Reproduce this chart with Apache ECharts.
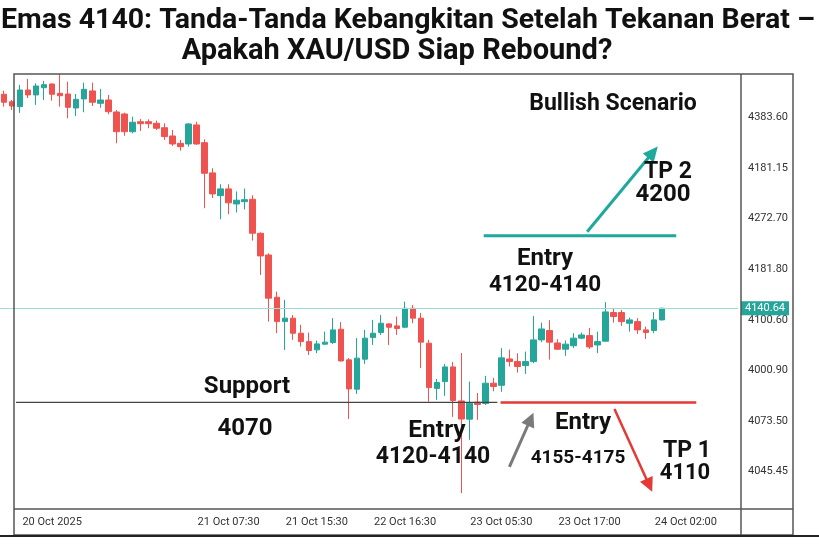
<!DOCTYPE html>
<html><head><meta charset="utf-8">
<script src="https://cdn.jsdelivr.net/npm/echarts@6/dist/echarts.min.js"></script>
<style>html,body{margin:0;padding:0;background:#fff}#c{width:819px;height:547px}</style>
</head><body><div id="c"></div>
<script>
// ---- data: [open, close, low, high] ----
const candles = [
[4301.2,4295.2,4291.9,4303.9],[4295.6,4292.4,4289.4,4296.9],[4291.9,4304.4,4287.2,4308.2],[4304.4,4300.7,4298.4,4312.7],
[4300.7,4307.4,4293.2,4309.4],[4306.1,4308.4,4296.9,4311.2],[4308.9,4301.2,4296.4,4309.4],[4301.9,4300.1,4291.9,4316.4],
[4301.4,4291.4,4283.2,4310.6],[4290.9,4297.4,4284.9,4301.4],[4297.7,4304.9,4287.7,4309.9],[4303.7,4295.2,4292.4,4309.9],
[4294.4,4296.9,4291.1,4305.2],[4296.9,4288.1,4286.2,4300.7],[4287.9,4273.1,4264.4,4289.4],[4286.4,4273.1,4270.1,4287.4],
[4273.1,4280.2,4271.9,4284.4],[4280.6,4279.1,4273.7,4282.7],[4280.6,4279.1,4275.7,4282.4],[4279.4,4275.7,4274.4,4281.4],
[4276.1,4269.4,4266.9,4279.4],[4269.9,4263.9,4262.4,4274.4],[4264.4,4261.9,4258.9,4266.9],[4263.9,4278.9,4261.9,4279.5],
[4278.2,4263.9,4263.2,4280.6],[4264.9,4241.9,4215.7,4267.4],[4242.2,4226.4,4223.4,4245.7],[4225.1,4230.2,4207.4,4233.7],
[4230.2,4219.7,4211.2,4233.7],[4218.9,4221.7,4212.5,4228.3],[4220.6,4222.1,4214.8,4230.5],[4222.4,4196.9,4191.4,4225.4],
[4196.9,4179.9,4165.6,4197.5],[4180.6,4148.2,4130.6,4181.9],[4148.9,4130.6,4121.9,4153.1],[4130.6,4133.2,4109.4,4146.9],
[4133.2,4121.9,4116.9,4135.6],[4121.9,4115.6,4111.9,4128.2],[4115.6,4108.9,4105.6,4122.4],[4109.4,4113.9,4106.9,4116.4],
[4113.7,4115.2,4113.1,4123.1],[4114.9,4124.4,4113.7,4133.2],[4124.9,4101.1,4100.6,4130.2],[4101.9,4080.1,4057.6,4103.2],
[4079.9,4103.2,4076.4,4118.2],[4102.4,4118.2,4098.9,4124.4],[4118.6,4121.9,4113.1,4131.9],[4122.4,4129.4,4120.6,4135.6],
[4128.9,4126.4,4113.1,4129.4],[4127.4,4125.4,4120.6,4134.4],[4126.4,4140.6,4125.7,4145.6],[4140.6,4133.2,4129.4,4143.1],
[4133.2,4115.2,4095.7,4137.1],[4114.4,4081.1,4070.6,4116.9],[4080.5,4085.0,4071.9,4087.6],[4085.6,4096.6,4074.9,4098.9],
[4096.6,4071.4,4059.1,4100.4],[4071.1,4057.5,4001.9,4107.1],[4057.4,4069.4,4041.9,4085.6],[4070.2,4068.4,4056.9,4077.1],
[4069.1,4084.4,4068.1,4089.9],[4084.4,4081.9,4078.3,4088.4],[4082.8,4103.4,4077.9,4110.7],[4102.6,4100.6,4096.9,4109.6],
[4100.6,4096.9,4092.4,4106.9],[4097.6,4100.6,4091.4,4108.1],[4100.6,4116.9,4099.4,4134.9],[4116.9,4125.1,4115.2,4129.9],
[4123.9,4115.2,4102.1,4131.7],[4114.6,4109.9,4109.4,4117.4],[4109.9,4113.7,4104.9,4116.4],[4112.5,4118.2,4110.7,4121.9],
[4118.2,4120.6,4117.4,4122.4],[4120.1,4111.6,4110.1,4125.9],[4113.1,4115.6,4106.9,4123.1],[4115.9,4137.9,4115.6,4145.2],
[4137.4,4134.4,4129.9,4140.1],[4137.4,4130.6,4127.4,4139.4],[4129.4,4131.9,4123.1,4133.6],[4130.6,4124.4,4121.4,4133.2],
[4124.4,4122.4,4117.6,4126.9],[4123.9,4131.9,4121.9,4137.7],[4131.9,4140.64,4131.4,4141.0]
];
const totalSlots = 92;
const categories = Array.from({length: totalSlots}, (_, i) => String(i));
const yTickValues = [4018, 4056, 4094, 4132, 4170, 4208, 4246, 4284];
const yTickLabels = ['4045.45','4073.50','4000.90','4100.60','4181.80','4272.70','4181.15','4383.60'];
const xTickIndex = [6, 28, 39, 50, 62, 73, 85];
const xTickLabels = ['20 Oct 2025','21 Oct 07:30','21 Oct 15:30','22 Oct 16:30','23 Oct 05:30','23 Oct 17:00','24 Oct 02:00'];
const lastPrice = 4140.64;
const supportLevel = 4070;
// annotation levels in data coordinates [categoryIndex, price]
const supportLine = [[1.5, supportLevel], [61.5, supportLevel]];
const sellLine = [[61.9, supportLevel], [86.3, supportLevel]];
const bullLine = [[59.8, 4195], [83.8, 4195]];
const bullArrow = [[72.7, 4198], [81.5, 4262]];
const grayArrow = [[63.0, 4021.6], [66.0, 4062.2]];
const redArrow = [[76.1, 4065], [80.8, 4003]];

const UP = '#26a69a', DOWN = '#ef5350';
const FONT_AX = 'Liberation Sans Narrow, Roboto, sans-serif';
const chart = echarts.init(document.getElementById('c'), null, {renderer: 'canvas'});
chart.setOption({
  backgroundColor: '#fff',
  animation: false,
  grid: {left: -2, right: 81, top: 74, bottom: 38, containLabel: false},
  xAxis: {
    type: 'category', data: categories, boundaryGap: true,
    axisLine: {show: false}, axisTick: {show: false}, splitLine: {show: false},
    axisLabel: {
      interval: (i) => xTickIndex.indexOf(i) >= 0,
      formatter: (v) => { const k = xTickIndex.indexOf(Number(v)); return k >= 0 ? xTickLabels[k] : ''; },
      color: '#333', fontSize: 11, margin: 8, fontFamily: FONT_AX
    }
  },
  yAxis: {
    type: 'value', position: 'right', min: 3990, max: 4316.4, scale: true,
    axisLine: {show: false}, axisTick: {show: false}, splitLine: {show: false},
    axisLabel: {
      customValues: yTickValues,
      formatter: (v) => { let best = 0; yTickValues.forEach((t, i) => { if (Math.abs(t - v) < Math.abs(yTickValues[best] - v)) best = i; }); return yTickLabels[best]; },
      color: '#333', fontSize: 11, margin: 10, fontFamily: FONT_AX
    }
  },
  series: [{
    type: 'candlestick', data: candles, barWidth: 6,
    itemStyle: {color: UP, color0: DOWN, borderColor: UP, borderColor0: DOWN, borderWidth: 1},
    markLine: {
      symbol: 'none', silent: true, animation: false,
      lineStyle: {color: '#9ddcd6', width: 1, type: 'solid'},
      label: {show: true, position: 'end', formatter: lastPrice.toFixed(2), backgroundColor: UP, color: '#fff',
        padding: [2, 4, 1, 4], fontSize: 11, distance: 3, fontFamily: FONT_AX},
      data: [{yAxis: lastPrice}]
    }
  }]
});

function px(pt) {
  const a = chart.convertToPixel({xAxisIndex: 0, yAxisIndex: 0}, [0, pt[1]]);
  const b = chart.convertToPixel({xAxisIndex: 0, yAxisIndex: 0}, [1, pt[1]]);
  return [a[0] + pt[0] * (b[0] - a[0]), a[1]];
}
function line(seg, color, w) {
  const p = px(seg[0]), q = px(seg[1]);
  return {type: 'line', z: 50, shape: {x1: p[0], y1: p[1], x2: q[0], y2: q[1]}, style: {stroke: color, lineWidth: w}};
}
function arrow(seg, color, w, hl, hw) {
  const p = px(seg[0]), q = px(seg[1]);
  const dx = q[0] - p[0], dy = q[1] - p[1], len = Math.hypot(dx, dy);
  const ux = dx / len, uy = dy / len, nx = -uy, ny = ux;
  const bx = q[0] - ux * hl, by = q[1] - uy * hl;
  return [
    {type: 'line', z: 50, shape: {x1: p[0], y1: p[1], x2: bx + ux * 2, y2: by + uy * 2}, style: {stroke: color, lineWidth: w}},
    {type: 'polygon', z: 50, shape: {points: [[q[0], q[1]], [bx + nx * hw, by + ny * hw], [bx - nx * hw, by - ny * hw]]}, style: {fill: color}}
  ];
}
function txt(s, x, y, size, color) {
  return {type: 'text', z: 60, style: {text: s, x: x, y: y, fill: color || '#111', font: 'bold ' + size + 'px Roboto, sans-serif',
    align: 'center', verticalAlign: 'middle', textAlign: 'center', textVerticalAlign: 'middle'}};
}
const els = [
  {type: 'rect', z: 40, shape: {x: 14, y: 74, width: 779, height: 461}, style: {fill: 'none', stroke: '#555', lineWidth: 1.5}},
  {type: 'line', z: 40, shape: {x1: 741, y1: 74, x2: 741, y2: 535}, style: {stroke: '#555', lineWidth: 1.5}},
  {type: 'line', z: 40, shape: {x1: 14, y1: 509, x2: 793, y2: 509}, style: {stroke: '#555', lineWidth: 1.5}},
  {type: 'line', z: 40, shape: {x1: 0, y1: 536, x2: 819, y2: 536}, style: {stroke: '#222', lineWidth: 2}},
  line(supportLine, '#444', 1.3),
  line(sellLine, '#e53935', 2.5),
  line(bullLine, '#1fa89c', 3),
  ...arrow(bullArrow, '#1fa89c', 3, 15, 7),
  ...arrow(grayArrow, '#7a7a7a', 3, 14, 7),
  ...arrow(redArrow, '#e53935', 2.5, 14, 7),
  txt('Emas 4140: Tanda-Tanda Kebangkitan Setelah Tekanan Berat –', 408, 21, 28.5),
  txt('Apakah XAU/USD Siap Rebound?', 397, 52, 29),
  txt('Bullish Scenario', 613, 104, 23),
  txt('TP 2', 668, 172, 23),
  txt('4200', 663, 195, 24),
  txt('Entry', 545, 259, 24),
  txt('4120-4140', 545, 285, 22.5),
  txt('Support', 247, 387, 24),
  txt('4070', 245, 429, 24),
  txt('Entry', 437, 431, 24.5),
  txt('4120-4140', 433, 457, 23),
  txt('Entry', 583, 423, 24),
  txt('4155-4175', 578, 458, 19),
  txt('TP 1', 687, 451, 23),
  txt('4110', 685, 473, 22)
];
chart.setOption({graphic: {elements: els}});
</script></body></html>
